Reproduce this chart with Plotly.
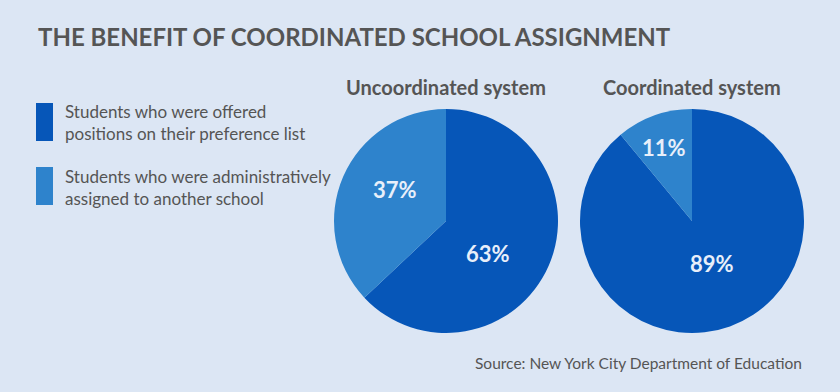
import plotly.graph_objects as go

categories = ["Students who were offered<br>positions on their preference list",
              "Students who were administratively<br>assigned to another school"]
uncoordinated = [63, 37]
coordinated = [89, 11]
pie_titles = ["Uncoordinated system", "Coordinated system"]
title = "THE BENEFIT OF COORDINATED SCHOOL ASSIGNMENT"
source = "Source: New York City Department of Education"

BG = "#dce6f4"
DARK = "#0656b8"
LIGHT = "#2e83cc"
TEXT = "#555555"
FONT = "Lato"
colors = [DARK, LIGHT]

W, H = 840, 392

def px(x):
    return x / W

def py(y):
    return 1 - y / H

fig = go.Figure()
centers = [446, 692]
CY = 221
R = 112
for cx, vals in zip(centers, [uncoordinated, coordinated]):
    fig.add_trace(go.Pie(
        values=vals, labels=[c.replace("<br>", " ") for c in categories],
        sort=False, direction="clockwise", rotation=0,
        marker=dict(colors=colors, line=dict(width=0)),
        textinfo="none",
        domain=dict(x=[px(cx - R), px(cx + R)], y=[py(CY + R), py(CY - R)]),
        showlegend=False, hoverinfo="label+value",
    ))

ann = []
# percentage labels placed manually (pixel offsets from pie centre)
label_offsets = [[(42, 32), (-51, -31)], [(20, 42), (-28, -74)]]
for cx, vals, offs in zip(centers, [uncoordinated, coordinated], label_offsets):
    for v, (dx, dy) in zip(vals, offs):
        ann.append(dict(x=px(cx + dx), y=py(CY + dy), xref="paper", yref="paper",
                        xanchor="center", yanchor="middle", text=f"<b>{v}%</b>", showarrow=False,
                        font=dict(family=FONT, size=22, color="#e8effa")))

ann.append(dict(x=px(36), y=py(36), xref="paper", yref="paper", xanchor="left", yanchor="middle",
                text="<b>" + title + "</b>", showarrow=False,
                font=dict(family=FONT, size=24, color=TEXT)))
for cx, t in zip(centers, pie_titles):
    ann.append(dict(x=px(cx), y=py(87), xref="paper", yref="paper", xanchor="center", yanchor="middle",
                    text="<b>" + t + "</b>", showarrow=False,
                    font=dict(family=FONT, size=20, color=TEXT)))
shapes = []
for i, (lab, c) in enumerate(zip(categories, colors)):
    top = 103 + i * 64
    shapes.append(dict(type="rect", xref="paper", yref="paper",
                       x0=px(36), x1=px(53), y0=py(top + 38), y1=py(top),
                       fillcolor=c, line=dict(width=0)))
    ann.append(dict(x=px(63), y=py(top + 20), xref="paper", yref="paper",
                    xanchor="left", yanchor="middle",
                    text=lab, showarrow=False, align="left",
                    font=dict(family=FONT, size=17, color=TEXT)))
ann.append(dict(x=px(804), y=py(363), xref="paper", yref="paper", xanchor="right", yanchor="middle",
                text=source, showarrow=False, font=dict(family=FONT, size=15.5, color=TEXT)))

fig.update_layout(width=W, height=H, margin=dict(l=0, r=0, t=0, b=0),
                  paper_bgcolor=BG, plot_bgcolor=BG, annotations=ann, shapes=shapes)
fig.write_html("out.html", post_script="document.body.style.margin='0';",
               config=dict(displayModeBar=False))
